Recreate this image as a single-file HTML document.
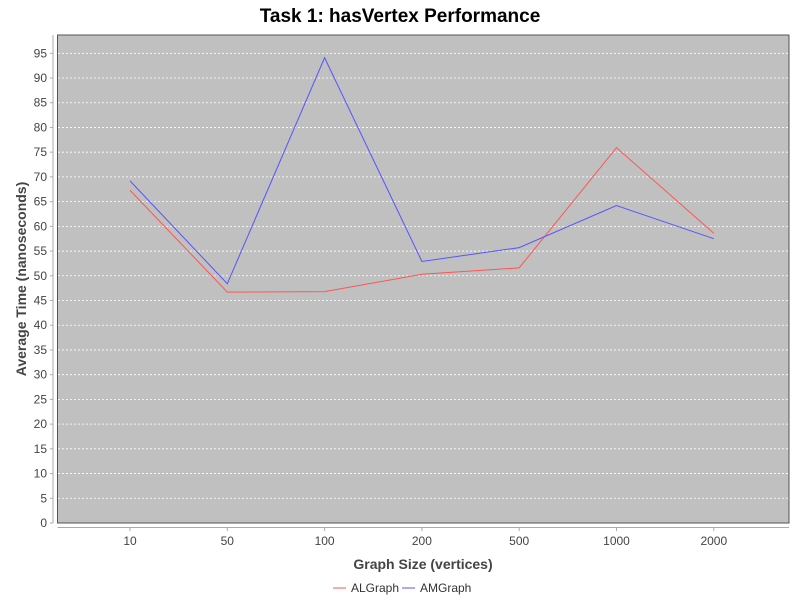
<!DOCTYPE html>
<html><head><meta charset="utf-8"><style>
body{margin:0;background:#fff;font-family:"Liberation Sans","DejaVu Sans",sans-serif}
</style></head><body>
<svg width="800" height="600" xmlns="http://www.w3.org/2000/svg" id="c">
<text x="400" y="22" text-anchor="middle" font-size="19" font-weight="bold" fill="#000">Task 1: hasVertex Performance</text>
<rect x="57.5" y="35" width="731.5" height="488" fill="#c0c0c0" stroke="#555" stroke-width="1"/>
<g id="grid"></g>
<g id="yaxis"></g>
<g id="xaxis"></g>
<g id="series"></g>
<text transform="translate(26,279) rotate(-90)" text-anchor="middle" font-size="14" font-weight="bold" fill="#444">Average Time (nanoseconds)</text>
<text x="423" y="569" text-anchor="middle" font-size="14" font-weight="bold" fill="#444">Graph Size (vertices)</text>
<g>
<g><line x1="333" y1="588" x2="346" y2="588" stroke="#ff5555" stroke-width="1"/><text x="351" y="592" font-size="12" fill="#333">ALGraph</text></g>
<g><line x1="402" y1="588" x2="415" y2="588" stroke="#5555ff" stroke-width="1"/><text x="420" y="592" font-size="12" fill="#333">AMGraph</text></g>
</g>
</svg>
<script>
const categories=["10","50","100","200","500","1000","2000"];
const alValues=[67.3,46.7,46.8,50.3,51.6,75.9,58.6];
const amValues=[69.2,48.4,94.1,52.9,55.7,64.2,57.5];
const yTicks=[0,5,10,15,20,25,30,35,40,45,50,55,60,65,70,75,80,85,90,95];
const NS="http://www.w3.org/2000/svg";
const yMax=98.7,plotTop=35,plotBottom=523;
function ys(v){return plotBottom-(v/yMax)*(plotBottom-plotTop);}
function xs(i){return 130+i*97.3;}
function mk(tag,attrs,parent){const e=document.createElementNS(NS,tag);for(const k in attrs)e.setAttribute(k,attrs[k]);document.getElementById(parent).appendChild(e);return e;}
mk('line',{x1:53,y1:plotTop,x2:53,y2:plotBottom,stroke:'#aaa'},'yaxis');
mk('line',{x1:57.5,y1:527.5,x2:789,y2:527.5,stroke:'#aaa'},'xaxis');
yTicks.forEach(t=>{
  const y=ys(t);
  if(t>0){const g=mk('line',{x1:58,y1:y,x2:788,y2:y,stroke:'#fff','stroke-dasharray':'2,2','stroke-width':0.8},'grid');
  
  }
  mk('line',{x1:50,y1:y,x2:53,y2:y,stroke:'#aaa'},'yaxis');
  const tx=mk('text',{x:47,y:y+4,'text-anchor':'end','font-size':12,fill:'#444'},'yaxis');
  tx.textContent=t;
  
  
});
categories.forEach((c,i)=>{
  const x=xs(i);
  mk('line',{x1:x,y1:527.5,x2:x,y2:531,stroke:'#aaa'},'xaxis');
  const tx=mk('text',{x:x,y:545,'text-anchor':'middle','font-size':12,fill:'#444'},'xaxis');
  tx.textContent=c;
  
  
});
function line(vals,color,name){
  const p=mk('polyline',{points:vals.map((v,i)=>xs(i)+','+ys(v)).join(' '),fill:'none',stroke:color,'stroke-width':1},'series');
  
  
}
line(alValues,'#ff5555','algraph-line');
line(amValues,'#5555ff','amgraph-line');
</script>
</body></html>
